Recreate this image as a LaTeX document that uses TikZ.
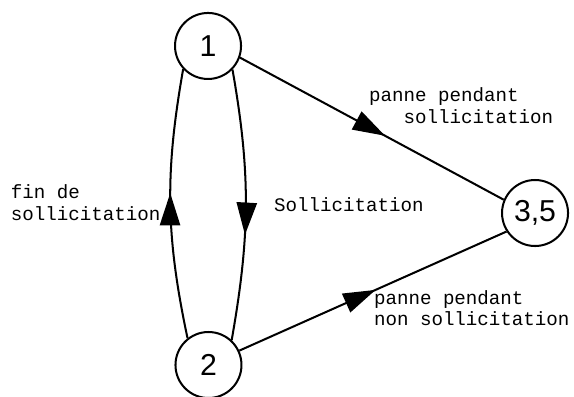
\documentclass[tikz,border=0pt]{standalone}
\usepackage{fontspec}
\newfontfamily\labelfont{Liberation Mono}
\newfontfamily\statefont{Liberation Sans}
\usetikzlibrary{arrows.meta, decorations.markings, positioning}

\begin{document}
\begin{tikzpicture}[>=Latex, line width=1pt, mid/.style={postaction={decorate}, decoration={markings, mark=at position #1 with {\arrow{Triangle[length=16pt, width=10pt]}}}}]
    % Define styles for states and labels
    \tikzstyle{state} = [draw, circle, minimum size=1.15cm, inner sep=0pt, font=\statefont\fontsize{15}{15}\selectfont]
    \tikzstyle{lbl} = [inner sep=0pt, anchor=base west, align=left, font=\labelfont\fontsize{9.5}{10.5}\selectfont]

    \useasboundingbox (0,0) rectangle (10,6.899);

    % States
    \node [state] (one) at (3.624,6.098) {1};
    \node [state] (two) at (3.632,0.540) {2};
    \node [state] (threefive) at (9.321,3.188) {3,5};

    % Transitions
    \draw[mid=0.54] (two.128) to[out=102, in=260] (one.223);
    \draw[mid=0.61] (one.316) to[out=280, in=80] (two.47);
    \draw[mid=0.55] (one.340) -- (threefive.157);
    \draw[mid=0.51] (two.25) -- (threefive.213);

    % Labels (base = last line)
    \node [lbl] (failon) at (6.411,4.756) {panne pendant\\\phantom{xxx}sollicitation};
    \node [lbl] (failoff) at (6.498,1.220) {panne pendant\\non sollicitation};
    \node [lbl] (endreq) at (0.174,3.066) {fin de\\sollicitation};
    \node [lbl] (req) at (4.756,3.206) {Sollicitation};
\end{tikzpicture}
\end{document}
